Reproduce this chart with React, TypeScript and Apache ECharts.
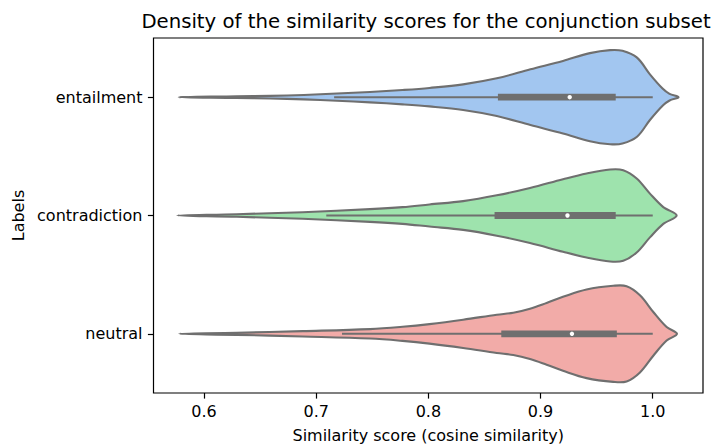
import React, { useEffect, useRef } from "react";
import * as echarts from "echarts";

const categories = ["entailment", "contradiction", "neutral"];

// Violin outlines: similarity score and relative kernel density (max ~1)
const entailmentScores = [0.5775, 0.629, 0.659, 0.689, 0.7185, 0.748, 0.777, 0.801, 0.831, 0.861, 0.891, 0.92, 0.944, 0.962, 0.973, 0.986, 0.9975, 1.009, 1.015, 1.023];
const entailmentDensity = [0, 0.017, 0.028, 0.047, 0.077, 0.11, 0.152, 0.195, 0.27, 0.398, 0.589, 0.766, 0.93, 0.994, 0.979, 0.836, 0.483, 0.177, 0.07, 0];

const contradictionScores = [0.5762, 0.629, 0.688, 0.748, 0.777, 0.801, 0.831, 0.861, 0.8906, 0.92, 0.941, 0.962, 0.9737, 0.9857, 0.9975, 1.0094, 1.0213];
const contradictionDensity = [0, 0.028, 0.07, 0.134, 0.177, 0.234, 0.304, 0.426, 0.581, 0.766, 0.887, 0.972, 0.957, 0.781, 0.462, 0.177, 0];

const neutralScores = [0.578, 0.629, 0.688, 0.748, 0.777, 0.801, 0.831, 0.861, 0.8757, 0.8906, 0.9054, 0.92, 0.941, 0.9648, 0.9767, 0.9886, 1.0005, 1.0124, 1.0216];
const neutralDensity = [0, 0.021, 0.057, 0.1, 0.149, 0.206, 0.298, 0.404, 0.447, 0.532, 0.653, 0.781, 0.936, 1.015, 1.006, 0.815, 0.462, 0.143, 0];

// Inner box plot statistics
const whiskerLow = [0.716, 0.709, 0.723];
const q1 = [0.862, 0.859, 0.865];
const medians = [0.926, 0.924, 0.928];
const q3 = [0.967, 0.967, 0.968];
const whiskerHigh = [1.0, 1.0, 1.0];

const xTicks = [0.6, 0.7, 0.8, 0.9, 1.0];

const violinColors = ["#a2c6f0", "#9ee3ad", "#f2aba8"];
const lineGray = "#6f6f6f";

const allScores = [entailmentScores, contradictionScores, neutralScores];
const allDensity = [entailmentDensity, contradictionDensity, neutralDensity];

const FONT = "DejaVu Sans";

export default function App() {
  const ref = useRef<HTMLDivElement>(null);
  useEffect(() => {
    if (!ref.current) return;
    const chart = echarts.init(ref.current, null, { renderer: "svg" });
    const renderItem = (params: any, api: any) => {
      const i = params.dataIndex;
      const band = api.size([0, 1])[1];
      const half = band * 0.4;
      const sc = allScores[i];
      const dn = allDensity[i];
      const upper = sc.map((s, k) => {
        const p = api.coord([s, i]);
        return [p[0], p[1] - dn[k] * half];
      });
      const lower = sc
        .map((s, k) => {
          const p = api.coord([s, i]);
          return [p[0], p[1] + dn[k] * half];
        })
        .reverse();
      const points = upper.concat(lower.slice(1, -1));
      const wl = api.coord([whiskerLow[i], i]);
      const wh = api.coord([whiskerHigh[i], i]);
      const b1 = api.coord([q1[i], i]);
      const b3 = api.coord([q3[i], i]);
      const md = api.coord([medians[i], i]);
      return {
        type: "group",
        children: [
          {
            type: "polygon",
            shape: { points, smooth: 0.35 },
            style: { fill: violinColors[i], stroke: lineGray, lineWidth: 2.1 },
          },
          {
            type: "line",
            shape: { x1: wl[0], y1: wl[1], x2: wh[0], y2: wh[1] },
            style: { stroke: lineGray, lineWidth: 2 },
          },
          {
            type: "rect",
            shape: { x: b1[0], y: b1[1] - 3.4, width: b3[0] - b1[0], height: 6.8 },
            style: { fill: lineGray },
          },
          {
            type: "circle",
            shape: { cx: md[0], cy: md[1], r: 2.2 },
            style: { fill: "#ffffff" },
          },
        ],
      };
    };
    chart.setOption({
      animation: false,
      backgroundColor: "#ffffff",
      textStyle: { fontFamily: FONT },
      grid: {
        left: 153.5,
        right: 10,
        top: 38,
        bottom: 51,
        outerBoundsMode: "none",
        containLabel: false,
        show: true,
        borderColor: "#000000",
        borderWidth: 1.2,
        backgroundColor: "transparent",
      },
      xAxis: {
        type: "value",
        min: 0.555,
        max: 1.0448,
        name: "Similarity score (cosine similarity)",
        nameLocation: "middle",
        nameGap: 34,
        nameTextStyle: { fontSize: 16, color: "#000", fontFamily: FONT },
        splitLine: { show: false },
        axisLine: { show: false },
        axisTick: { show: true, length: 5.6, customValues: xTicks, lineStyle: { color: "#000", width: 1.2 } },
        axisLabel: {
          customValues: xTicks,
          formatter: (v: number) => v.toFixed(1),
          fontSize: 16,
          color: "#000",
          margin: 10,
          fontFamily: FONT,
        },
      },
      yAxis: {
        type: "category",
        data: categories,
        inverse: true,
        name: "Labels",
        nameLocation: "middle",
        nameGap: 127,
        nameRotate: 90,
        nameTextStyle: { fontSize: 16, color: "#000", fontFamily: FONT },
        axisLine: { show: false },
        axisTick: { show: true, alignWithLabel: true, length: 5.6, lineStyle: { color: "#000", width: 1.2 } },
        axisLabel: { fontSize: 16, color: "#000", margin: 11, fontFamily: FONT },
        splitLine: { show: false },
      },
      graphic: [
        {
          type: "text",
          x: 426,
          y: 21,
          style: {
            text: "Density of the similarity scores for the conjunction subset",
            fontSize: 19.7,
            fontFamily: FONT,
            fill: "#000",
            textAlign: "center",
            textVerticalAlign: "middle",
          },
        },
      ],
      series: [
        {
          type: "custom",
          renderItem,
          encode: { x: 0, y: 1 },
          data: categories.map((c, i) => [q1[i], i]),
          z: 3,
        },
      ],
    });
    return () => chart.dispose();
  }, []);
  return (
    <div
      ref={ref}
      style={{ position: "absolute", left: 0, top: 0, width: 713, height: 444 }}
    />
  );
}
